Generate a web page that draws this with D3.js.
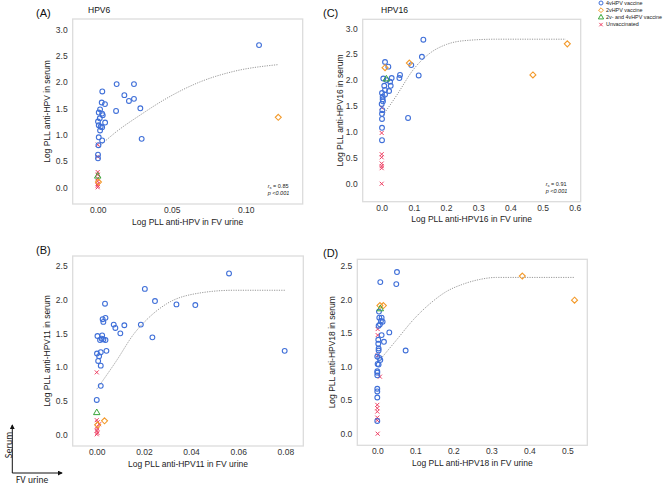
<!DOCTYPE html>
<html>
<head>
<meta charset="utf-8">
<script src="https://cdn.jsdelivr.net/npm/d3@7"></script>
<style>
  body { margin: 0; background: #fff; }
  svg { font-family: Arial, "Liberation Sans", sans-serif; display: block; }
</style>
</head>
<body>
<svg id="chart" width="667" height="486"></svg>
<script>
// ---- data: [urine, serum] (log PLL) ----
// (A) HPV6
let hpv6Vax4 = [[0.109,2.70],[0.0128,1.96],[0.0245,1.96],[0.0031,1.82],[0.018,1.75],[0.0245,1.68],[0.0211,1.64],
  [0.0027,1.61],[0.0049,1.58],[0.0288,1.50],[0.0016,1.48],[0.0124,1.45],[0.0007,1.42],[0.003,1.40],[0.0034,1.37],
  [0.0014,1.31],[0.0002,1.25],[0.005,1.23],[0.0007,1.18],[0.002,1.15],[0.003,1.14],[0.0016,1.08],[0.0297,0.92],
  [0.0007,0.95],[0.003,0.89],[0.0005,0.80],[0.0002,0.62],[0.0002,0.55]];
let hpv6Vax2 = [[0.122,1.33],[0.0005,0.10]];
let hpv6Both = [[0.0,0.21]];
let hpv6Unvax = [[0,0.81],[0,0.58],[0,0.29],[0,0.24],[0,0.17],[0,0.11],[0,0.06],[0,0.03],[0,0.0]];
let hpv6Fit = [[0.0007,0.77],[0.0128,1.06],[0.0286,1.37],[0.0466,1.69],[0.069,2.0],[0.0917,2.2],[0.122,2.33]];

// (B) HPV11
let hpv11Vax4 = [[0.0561,2.39],[0.0204,2.16],[0.0247,1.98],[0.0338,1.93],[0.0418,1.92],[0.0035,1.94],[0.0037,1.73],
  [0.0025,1.71],[0.0028,1.67],[0.0072,1.63],[0.0079,1.58],[0.0117,1.62],[0.0187,1.63],[0.010,1.50],[0.0236,1.44],
  [0.0003,1.46],[0.0023,1.47],[0.0021,1.42],[0.0028,1.41],[0.0037,1.40],[0.0014,1.40],[0.0041,1.24],[0.0017,1.22],
  [0.0001,1.20],[0.001,1.16],[0.0006,1.09],[0.0017,1.02],[0.0017,0.72],[0.0,0.51],[0.0797,1.24]];
let hpv11Vax2 = [[0.0033,0.20],[0.0004,0.14]];
let hpv11Both = [[0.0,0.32]];
let hpv11Unvax = [[0,0.92],[0,0.21],[0.0004,0.18],[0.001,0.15],[0,0.11],[0.0003,0.08],[0,0.05],[0.0003,0.02],[0,0.0]];
let hpv11Fit = [[0.0,0.67],[0.0085,1.10],[0.0155,1.48],[0.0226,1.75],[0.0297,1.94],[0.0438,2.10],[0.058,2.14],[0.0799,2.14]];

// (C) HPV16
let hpv16Vax4 = [[0.1295,2.78],[0.125,2.45],[0.0104,2.35],[0.0207,2.26],[0.092,2.29],[0.115,2.09],[0.057,2.10],
  [0.055,2.04],[0.031,2.04],[0.005,2.03],[0.0155,2.00],[0.026,1.97],[0.028,1.89],[0.008,1.89],[0.023,1.79],
  [0.0104,1.81],[0.001,1.75],[0.003,1.68],[0.0104,1.72],[0.003,1.63],[0.004,1.59],[0.0,1.54],[0.002,1.42],
  [0.001,1.35],[0.001,1.25],[0.082,1.27],[0.001,1.08],[0.001,0.84]];
let hpv16Vax2 = [[0.577,2.70],[0.470,2.10],[0.086,2.33],[0.0104,2.24]];
let hpv16Both = [[0.0145,2.02]];
let hpv16Unvax = [[0,1.47],[0,0.98],[0,0.57],[0,0.51],[0,0.39],[0,0.34],[0,0.30],[0,0.0]];
let hpv16Fit = [[0.005,1.33],[0.047,1.71],[0.098,2.20],[0.150,2.52],[0.202,2.69],[0.254,2.76],[0.357,2.79],[0.572,2.79]];

// (D) HPV18
let hpv18Vax4 = [[0.0518,2.41],[0.0079,2.26],[0.050,2.23],[0.0044,1.82],[0.0053,1.73],[0.0114,1.73],[0.0096,1.68],
  [0.014,1.67],[0.007,1.63],[0.0035,1.61],[0.0316,1.51],[0.0114,1.47],[0.0026,1.40],[0.0175,1.37],[0.0026,1.34],
  [0.0035,1.27],[0.0035,1.24],[0.0746,1.24],[0.0,1.15],[0.0053,1.13],[0.0079,1.10],[0.0009,1.04],[0.0035,1.03],
  [0.0,0.93],[0.0,0.91],[0.0,0.87],[0.0,0.67],[0.0,0.63],[0.0,0.54],[0.0,0.19]];
let hpv18Vax2 = [[0.3816,2.35],[0.519,1.99],[0.007,1.91],[0.016,1.91]];
let hpv18Both = [[0.0079,1.86]];
let hpv18Unvax = [[0.001,1.56],[0.001,1.47],[0.001,1.17],[0.007,0.85],[0,0.43],[0,0.38],[0,0.33],[0,0.24],[0,0.20],[0.001,0.0]];
let hpv18Fit = [[0.0009,1.06],[0.051,1.40],[0.095,1.70],[0.139,1.94],[0.182,2.12],[0.226,2.23],[0.27,2.30],[0.314,2.33],[0.40,2.33],[0.52,2.33]];

// tick labels
let xTicksA = [0, 0.05, 0.10];
let xTicksB = [0, 0.02, 0.04, 0.06, 0.08];
let xTicksC = [0, 0.1, 0.2, 0.3, 0.4, 0.5, 0.6];
let xTicksD = [0, 0.1, 0.2, 0.3, 0.4, 0.5];
let yTicks3 = [0, 0.5, 1.0, 1.5, 2.0, 2.5, 3.0];
let yTicks25 = [0, 0.5, 1.0, 1.5, 2.0, 2.5];

let legendLabels = ['4vHPV vaccine', '2vHPV vaccine', '2v- and 4vHPV vaccine', 'Unvaccinated'];

const colors = {v4: '#3f6fd8', v2: '#f39a2b', both: '#3aa63a', un: '#ee3f63'};

let svg = d3.select('#chart');

let panels = [
  {tag: '(A)', title: 'HPV6', box: [72.7, 19, 302.7, 204], xd: [-0.0169, 0.1385], yd: [-0.317, 3.196],
   xt: xTicksA, yt: yTicks3, xf: '.2f', xlab: 'Log PLL anti-HPV in FV urine', ylab: 'Log PLL anti-HPV in serum',
   v4: hpv6Vax4, v2: hpv6Vax2, both: hpv6Both, un: hpv6Unvax, fit: hpv6Fit, rs: '0.85', tagX: 36, titleX: 88, ylabX: 47},
  {tag: '(B)', title: '', box: [72.7, 256, 303.3, 446], xd: [-0.0102, 0.0876], yd: [-0.174, 2.649],
   xt: xTicksB, yt: yTicks25, xf: '.2f', xlab: 'Log PLL anti-HPV11 in FV urine', ylab: 'Log PLL anti-HPV11 in serum',
   v4: hpv11Vax4, v2: hpv11Vax2, both: hpv11Both, un: hpv11Unvax, fit: hpv11Fit, rs: null, tagX: 36, titleX: 0, ylabX: 47},
  {tag: '(C)', title: 'HPV16', box: [362.7, 19.3, 580.7, 201.7], xd: [-0.059, 0.6186], yd: [-0.347, 3.174],
   xt: xTicksC, yt: yTicks3, xf: '.1f', xlab: 'Log PLL anti-HPV16 in FV urine', ylab: 'Log PLL anti-HPV16 in serum',
   v4: hpv16Vax4, v2: hpv16Vax2, both: hpv16Both, un: hpv16Unvax, fit: hpv16Fit, rs: '0.91', tagX: 323, titleX: 381, ylabX: 340},
  {tag: '(D)', title: '', box: [357.3, 259.3, 587.3, 445.3], xd: [-0.0526, 0.5526], yd: [-0.173, 2.6],
   xt: xTicksD, yt: yTicks25, xf: '.1f', xlab: 'Log PLL anti-HPV18 in FV urine', ylab: 'Log PLL anti-HPV18 in serum',
   v4: hpv18Vax4, v2: hpv18Vax2, both: hpv18Both, un: hpv18Unvax, fit: hpv18Fit, rs: null, tagX: 323, titleX: 0, ylabX: 332}
];

function drawCross(g, x, y, s, color) {
  g.append('path')
    .attr('d', `M${x - s},${y - s}L${x + s},${y + s}M${x - s},${y + s}L${x + s},${y - s}`)
    .attr('stroke', color).attr('stroke-width', 1).attr('fill', 'none');
}
// square rotated 45deg
const diamond = s => `M0,${-s}L${s},0L0,${s}L${-s},0Z`;

panels.forEach(p => {
  let [x0, y0, x1, y1] = p.box;
  let x = d3.scaleLinear(p.xd, [x0, x1]);
  let y = d3.scaleLinear(p.yd, [y1, y0]);
  let g = svg.append('g');

  // frame
  g.append('rect').attr('x', x0).attr('y', y0).attr('width', x1 - x0).attr('height', y1 - y0)
    .attr('fill', 'none').attr('stroke', '#dcdcdc').attr('stroke-width', 1.3);

  // axes
  let xAxis = d3.axisBottom(x).tickValues(p.xt).tickFormat(d3.format(p.xf)).tickSize(0).tickPadding(3);
  let yAxis = d3.axisLeft(y).tickValues(p.yt).tickFormat(d3.format('.1f')).tickSize(0).tickPadding(5);
  let gx = g.append('g').attr('transform', `translate(0,${y1})`).call(xAxis);
  let gy = g.append('g').attr('transform', `translate(${x0},0)`).call(yAxis);
  [gx, gy].forEach(a => {
    a.select('.domain').remove();
    a.selectAll('text').attr('font-size', 8.5).attr('fill', '#333').attr('font-family', 'Arial, "Liberation Sans", sans-serif');
  });

  // axis titles
  g.append('text').attr('x', (x0 + x1) / 2).attr('y', y1 + 20.5).attr('text-anchor', 'middle')
    .attr('font-size', 8.5).attr('fill', '#222').text(p.xlab);
  g.append('text').attr('transform', `translate(${p.ylabX},${(y0 + y1) / 2}) rotate(-90)`)
    .attr('text-anchor', 'middle').attr('dy', '0.35em').attr('font-size', 8.5).attr('fill', '#222').text(p.ylab);

  // panel tag + title
  g.append('text').attr('x', p.tagX).attr('y', y0 - 2).attr('font-size', 11).attr('fill', '#111').text(p.tag);
  if (p.title) g.append('text').attr('x', p.titleX).attr('y', y0 - 6).attr('font-size', 8.5).attr('fill', '#111').text(p.title);

  // fitted curve
  g.append('path').datum(p.fit)
    .attr('d', d3.line().x(d => x(d[0])).y(d => y(d[1])).curve(d3.curveMonotoneX))
    .attr('fill', 'none').attr('stroke', '#999').attr('stroke-width', 1).attr('stroke-dasharray', '1.2,1.2');

  // points
  p.un.forEach(d => drawCross(g, x(d[0]), y(d[1]), 2, colors.un));
  g.selectAll(null).data(p.v4).join('circle')
    .attr('cx', d => x(d[0])).attr('cy', d => y(d[1])).attr('r', 2.4)
    .attr('fill', 'none').attr('stroke', colors.v4).attr('stroke-width', 1.1);
  g.selectAll(null).data(p.v2).join('path')
    .attr('transform', d => `translate(${x(d[0])},${y(d[1])})`)
    .attr('d', diamond(3))
    .attr('fill', 'none').attr('stroke', colors.v2).attr('stroke-width', 1.1);
  g.selectAll(null).data(p.both).join('path')
    .attr('transform', d => `translate(${x(d[0])},${y(d[1])})`)
    .attr('d', d3.symbol(d3.symbolTriangle, 18))
    .attr('fill', 'none').attr('stroke', colors.both).attr('stroke-width', 1);

  // correlation note
  if (p.rs) {
    let t = g.append('text').attr('x', x1 - 35).attr('y', y1 - 16).attr('font-size', 5.5).attr('fill', '#222');
    t.append('tspan').attr('font-style', 'italic').text('r');
    t.append('tspan').attr('font-size', 4).attr('dy', 1.2).text('s');
    t.append('tspan').attr('dy', -1.2).text(' = ' + p.rs);
    g.append('text').attr('x', x1 - 35).attr('y', y1 - 9).attr('font-size', 5.5).attr('font-style', 'italic')
      .attr('fill', '#222').text('p <0.001');
  }
});

// legend
let lg = svg.append('g').attr('transform', 'translate(601,3)');
legendLabels.forEach((lab, i) => {
  let ly = i * 7.2;
  let c = [colors.v4, colors.v2, colors.both, colors.un][i];
  if (i === 0) lg.append('circle').attr('cx', 0).attr('cy', ly).attr('r', 2).attr('fill', 'none').attr('stroke', c);
  if (i === 1) lg.append('path').attr('transform', `translate(0,${ly})`).attr('d', diamond(2.4)).attr('fill', 'none').attr('stroke', c);
  if (i === 2) lg.append('path').attr('transform', `translate(0,${ly})`).attr('d', d3.symbol(d3.symbolTriangle, 12)).attr('fill', 'none').attr('stroke', c);
  if (i === 3) drawCross(lg, 0, ly, 1.7, c);
  lg.append('text').attr('x', 5).attr('y', ly).attr('dy', '0.35em').attr('font-size', 5.4).attr('fill', '#222').text(lab);
});

// orientation inset
let ins = svg.append('g');
ins.append('defs').append('marker').attr('id', 'arr').attr('viewBox', '0 0 6 6').attr('refX', 5).attr('refY', 3)
  .attr('markerWidth', 5).attr('markerHeight', 5).attr('orient', 'auto')
  .append('path').attr('d', 'M0,0L6,3L0,6Z').attr('fill', '#111');
ins.append('line').attr('x1', 12.3).attr('y1', 473).attr('x2', 12.3).attr('y2', 425)
  .attr('stroke', '#111').attr('stroke-width', 1).attr('marker-end', 'url(#arr)');
ins.append('line').attr('x1', 12.3).attr('y1', 473).attr('x2', 62).attr('y2', 473)
  .attr('stroke', '#111').attr('stroke-width', 1).attr('marker-end', 'url(#arr)');
ins.append('text').attr('transform', 'translate(8,445) rotate(-90)').attr('text-anchor', 'middle')
  .attr('dy', '0.35em').attr('font-size', 10).attr('fill', '#222').attr('font-family', 'Carlito, "Open Sans", sans-serif').text('Serum');
ins.append('text').attr('x', 16).attr('y', 482.5).attr('font-size', 9.5).attr('fill', '#222')
  .attr('font-family', 'Carlito, "Open Sans", sans-serif').text('FV urine');
</script>
</body>
</html>
